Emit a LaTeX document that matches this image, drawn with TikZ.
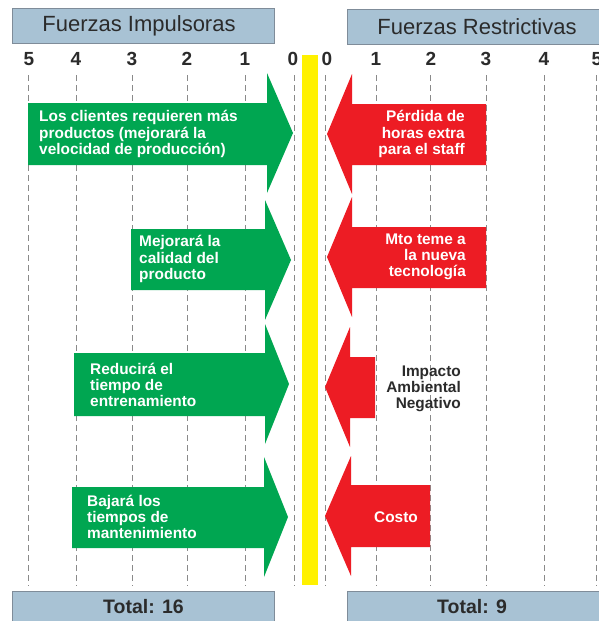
\documentclass[tikz,border=0pt]{standalone}
\usepackage{fontspec}
\setmainfont{Liberation Sans}
\definecolor{fgreen}{HTML}{00A651}
\definecolor{fred}{HTML}{ED1C24}
\definecolor{fyellow}{HTML}{FFF100}
\definecolor{hdrfill}{HTML}{A8C2D4}
\definecolor{hdrdraw}{HTML}{7F8C99}
\definecolor{txtdark}{HTML}{2B2B2B}
\definecolor{dashgray}{HTML}{8A8A8A}
\tikzset{
  hdrbox/.style={fill=hdrfill,draw=hdrdraw,line width=0.8pt},
  hdrtext/.style={text=txtdark,font=\fontsize{22}{24}\selectfont,inner sep=0pt},
  totaltext/.style={text=txtdark,font=\fontsize{19.5}{22}\bfseries\selectfont,inner sep=0pt},
  numtext/.style={text=txtdark,font=\fontsize{19}{21}\bfseries\selectfont,inner sep=0pt},
  gridline/.style={draw=dashgray,line width=0.9pt,dash pattern=on 6pt off 4pt},
  garrowfill/.style={fill=fgreen},
  rarrowfill/.style={fill=fred},
  gtext/.style={text=white,font=\fontsize{15.4}{16.2}\bfseries\selectfont,align=left,anchor=west,inner sep=0pt},
  rtext/.style={text=white,font=\fontsize{15.4}{16.2}\bfseries\selectfont,align=right,anchor=east,inner sep=0pt},
  darktext/.style={text=txtdark,font=\fontsize{15.4}{16.2}\bfseries\selectfont,align=right,anchor=east,inner sep=0pt},
}
% green arrow: left, top, bottom, head base x, tip x, tip y
\newcommand{\greenarrow}[6]{%
  \fill[garrowfill] (#1,#2) -- (#4,#2) -- (#4,#6-60) -- (#5,#6) -- (#4,#6+60) -- (#4,#3) -- (#1,#3) -- cycle;}
% red arrow: right, top, bottom, head base x, tip x, tip y
\newcommand{\redarrow}[6]{%
  \fill[rarrowfill] (#1,#2) -- (#4,#2) -- (#4,#6-60) -- (#5,#6) -- (#4,#6+60) -- (#4,#3) -- (#1,#3) -- cycle;}
\begin{document}
\begin{tikzpicture}[x=1pt,y=-1pt]
\useasboundingbox (0,0) rectangle (598,621);
\fill[white] (0,0) rectangle (598,621);

% headers
\draw[hdrbox] (12,8) rectangle (274,43);
\draw[hdrbox] (347,9) rectangle (604,44);
\node[hdrtext] (hleft) at (139,26) {Fuerzas Impulsoras};
\node[hdrtext] (hright) at (477,27) {Fuerzas Restrictivas};

% grid lines
\foreach \x in {28,76,132,187,245,294,325,376,430,486,544,596}
  \draw[gridline] (\x,75) -- (\x,586);

% numbers
\node[numtext] (nl5) at (29,59) {5};
\node[numtext] (nl4) at (76,59) {4};
\node[numtext] (nl3) at (132,59) {3};
\node[numtext] (nl2) at (187,59) {2};
\node[numtext] (nl1) at (245,59) {1};
\node[numtext] (nl0) at (293,59) {0};
\node[numtext] (nr0) at (327,59) {0};
\node[numtext] (nr1) at (376,59) {1};
\node[numtext] (nr2) at (431,59) {2};
\node[numtext] (nr3) at (486,59) {3};
\node[numtext] (nr4) at (544,59) {4};
\node[numtext] (nr5) at (597,59) {5};

% yellow bar
\fill[fyellow] (302,55) rectangle (318,585);

% green arrows
\greenarrow{28}{103}{165}{267}{293}{133}
\greenarrow{131}{229}{290}{265}{291}{260}
\greenarrow{74}{353}{416}{265}{289}{384}
\greenarrow{72}{487}{548}{264}{288}{517}

% red arrows
\redarrow{486}{104}{165}{352}{327}{134}
\redarrow{486}{227}{288}{352}{327}{257}
\redarrow{375}{357}{418}{350}{325}{387}
\redarrow{430}{485}{547}{351}{325}{516}

% green texts
\node[gtext] (g1) at (39,134) {Los clientes requieren más\\productos (mejorará la\\velocidad de producción)};
\node[gtext] (g2) at (139,259) {Mejorará la\\calidad del\\producto};
\node[gtext] (g3) at (90,385) {Reducirá el\\tiempo de\\entrenamiento};
\node[gtext] (g4) at (87,517) {Bajará los\\tiempos de\\mantenimiento};

% red texts
\node[rtext] (r1) at (465,134) {Pérdida de\\horas extra\\para el staff};
\node[rtext] (r2) at (466,257) {Mto teme a\\la nueva\\tecnología};
\node[darktext] (r3) at (461,389) {Impacto\\Ambiental\\Negativo};
\node[rtext] (r4) at (418,517) {Costo};

% totals
\draw[hdrbox] (12,591) rectangle (274,626);
\draw[hdrbox] (347,591) rectangle (604,626);
\node[totaltext] (tleft) at (143.5,607) {Total: 16};
\node[totaltext] (tright) at (472,607) {Total: 9};
\end{tikzpicture}
\end{document}
